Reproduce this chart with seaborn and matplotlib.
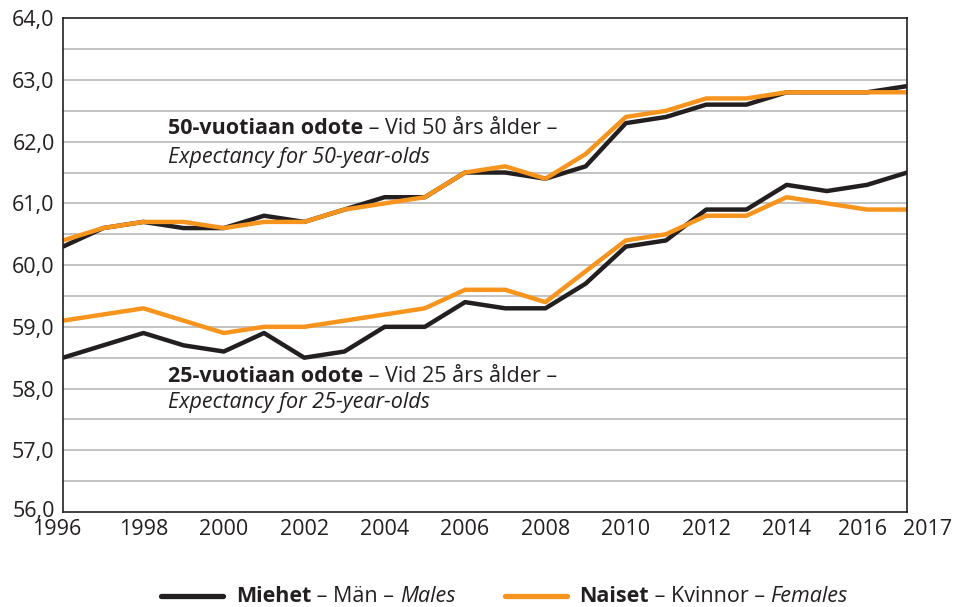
import numpy as np
import pandas as pd
import seaborn as sns
import matplotlib.pyplot as plt
import matplotlib.transforms as mtransforms
from matplotlib.lines import Line2D

years = list(range(1996, 2018))
males_50 = [60.3, 60.6, 60.7, 60.6, 60.6, 60.8, 60.7, 60.9, 61.1, 61.1, 61.5,
            61.5, 61.4, 61.6, 62.3, 62.4, 62.6, 62.6, 62.8, 62.8, 62.8, 62.9]
females_50 = [60.4, 60.6, 60.7, 60.7, 60.6, 60.7, 60.7, 60.9, 61.0, 61.1, 61.5,
              61.6, 61.4, 61.8, 62.4, 62.5, 62.7, 62.7, 62.8, 62.8, 62.8, 62.8]
males_25 = [58.5, 58.7, 58.9, 58.7, 58.6, 58.9, 58.5, 58.6, 59.0, 59.0, 59.4,
            59.3, 59.3, 59.7, 60.3, 60.4, 60.9, 60.9, 61.3, 61.2, 61.3, 61.5]
females_25 = [59.1, 59.2, 59.3, 59.1, 58.9, 59.0, 59.0, 59.1, 59.2, 59.3, 59.6,
              59.6, 59.4, 59.9, 60.4, 60.5, 60.8, 60.8, 61.1, 61.0, 60.9, 60.9]
xtick_labels = [1996, 1998, 2000, 2002, 2004, 2006, 2008, 2010, 2012, 2014, 2016, 2017]

black = '#231f20'
orange = '#f7941d'
fs = 15.5

sns.set_style('white')
plt.rcParams['font.family'] = ['Open Sans', 'DejaVu Sans']

rows = []
for sex, age, vals in [('M', '50', males_50), ('F', '50', females_50),
                       ('M', '25', males_25), ('F', '25', females_25)]:
    for y, v in zip(years, vals):
        rows.append({'year': y, 'value': v, 'sex': sex, 'grp': sex + age})
df = pd.DataFrame(rows)

fig = plt.figure(figsize=(9.55, 6.07), dpi=100)
ax = fig.add_axes([0.066, 0.1565, 0.884, 0.8135])

for g in [0.5 * i for i in range(113, 128)]:
    ax.axhline(g, color='#bebebe', lw=1.3, zorder=0)

order = ['M50', 'F50', 'M25', 'F25']
pal = {'M50': black, 'F50': orange, 'M25': black, 'F25': orange}
sns.lineplot(data=df, x='year', y='value', hue='grp', hue_order=order,
             palette=pal, lw=3.2, legend=False, ax=ax)

ax.set_xlim(1996, 2017)
ax.set_ylim(56, 64)
ax.set_xticks(years, minor=True)
ax.set_xticks(xtick_labels)
ax.set_xticklabels([str(x) for x in xtick_labels])
ax.set_yticks(range(56, 65))
ax.set_yticklabels([f'{v},0' for v in range(56, 65)])
ax.tick_params(axis='x', which='both', direction='in', length=5, width=1.2,
               color=black, labelsize=15.5, pad=5, labelcolor=black)
ax.tick_params(axis='y', length=0, labelsize=15.5, pad=6, labelcolor=black)
ax.set_xlabel('')
ax.set_ylabel('')
for s in ax.spines.values():
    s.set_color(black)
    s.set_linewidth(1.2)

# nudge crowded labels at both ends
xl = ax.get_xticklabels()
shifts = {0: -6, 10: -5, 11: 20}
for i, dx in shifts.items():
    xl[i].set_transform(xl[i].get_transform() +
                        mtransforms.ScaledTranslation(dx / 100, 0, fig.dpi_scale_trans))
yl = ax.get_yticklabels()
yl[0].set_transform(yl[0].get_transform() +
                    mtransforms.ScaledTranslation(0, 3 / 100, fig.dpi_scale_trans))


def chain(first, parts):
    t = first
    for txt, weight, style in parts:
        t = ax.annotate(txt, xy=(1, 0), xycoords=t, fontsize=fs,
                        fontweight=weight, fontstyle=style, color=black,
                        va='bottom', annotation_clip=False)


t = ax.text(1998.6, 62.22, '50-vuotiaan odote', fontsize=fs, fontweight='bold',
            color=black, va='center')
chain(t, [(' – Vid 50 års ålder –', 'normal', 'normal')])
ax.text(1998.6, 61.75, 'Expectancy for 50-year-olds', fontsize=fs,
        fontstyle='italic', color=black, va='center')
t = ax.text(1998.6, 58.2, '25-vuotiaan odote', fontsize=fs, fontweight='bold',
            color=black, va='center')
chain(t, [(' – Vid 25 års ålder –', 'normal', 'normal')])
ax.text(1998.6, 57.77, 'Expectancy for 25-year-olds', fontsize=fs,
        fontstyle='italic', color=black, va='center')

# legend
ly = 1 - 596 / 607
fig.add_artist(Line2D([161 / 955, 223 / 955], [ly, ly], color=black, lw=3.8))
fig.add_artist(Line2D([505 / 955, 567 / 955], [ly, ly], color=orange, lw=3.8))
t = fig.text(236 / 955, ly, 'Miehet', fontsize=fs, fontweight='bold',
             color=black, va='center')
chain(t, [(' – Män – ', 'normal', 'normal'), ('Males', 'normal', 'italic')])
t = fig.text(579 / 955, ly, 'Naiset', fontsize=fs, fontweight='bold',
             color=black, va='center')
chain(t, [(' – Kvinnor – ', 'normal', 'normal'), ('Females', 'normal', 'italic')])

fig.savefig('out.png', dpi=100)
